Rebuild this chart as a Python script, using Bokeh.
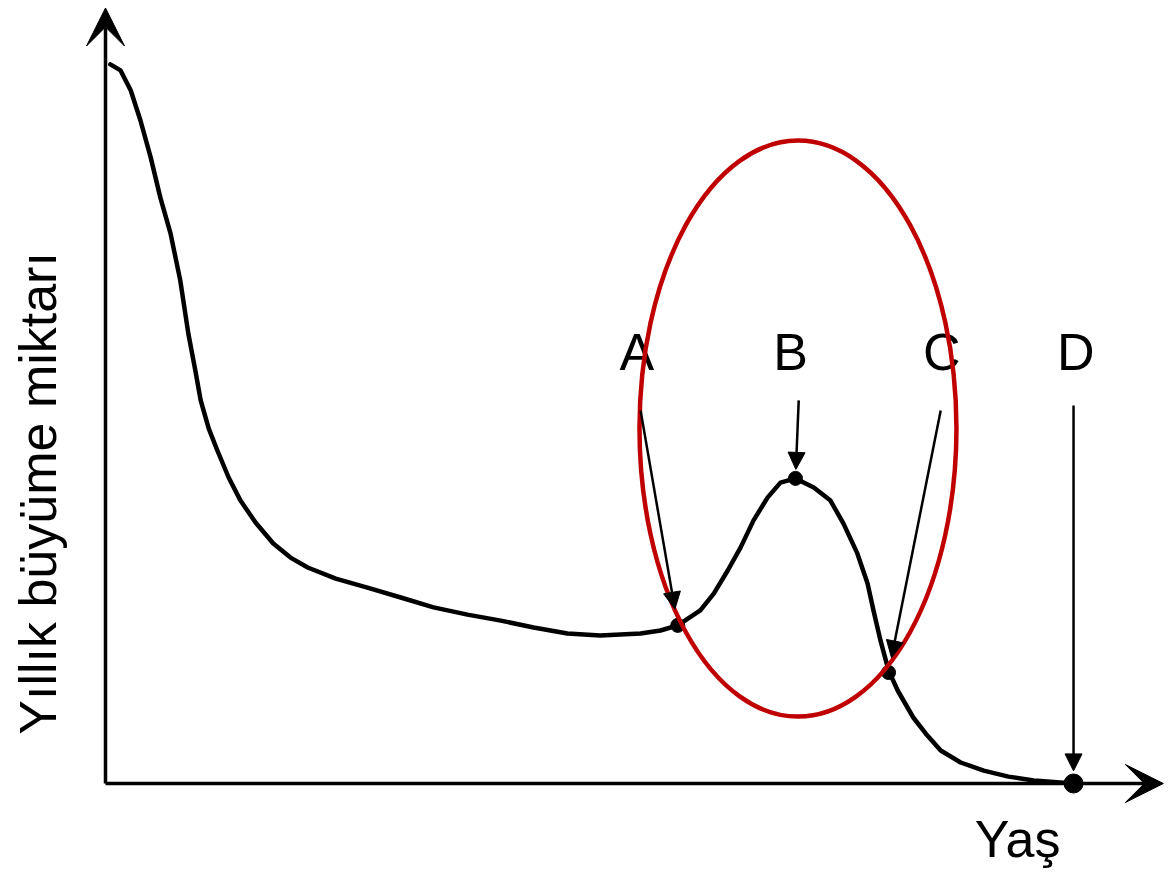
import math
from bokeh.plotting import figure
from bokeh.models import Range1d, Arrow, VeeHead, NormalHead
from bokeh.embed import file_html
from bokeh.resources import INLINE
from bokeh.core.properties import value

# ---------------- data ----------------
ages = [0.09, 0.28, 0.47, 0.65, 0.84, 1.02, 1.21, 1.39, 1.54, 1.67, 1.77,
        1.92, 2.08, 2.29, 2.51, 2.79, 3.12, 3.44, 3.76, 4.28, 4.87,
        5.49, 6.10, 6.73, 7.35, 7.96, 8.59, 9.20, 9.95, 10.32, 10.64,
        11.06, 11.31, 11.57, 11.81, 12.05, 12.31, 12.55, 12.83, 13.17,
        13.48, 13.72, 13.98, 14.17, 14.28, 14.41, 14.56, 14.73, 15.02,
        15.25, 15.53, 15.90, 16.33, 16.79, 17.26, 18.00]
growth = [23.97, 23.77, 23.10, 22.10, 20.87, 19.53, 18.33, 16.77, 15.00, 13.77, 12.77,
          11.83, 11.10, 10.20, 9.43, 8.70, 8.00, 7.53, 7.20, 6.83, 6.53,
          6.20, 5.87, 5.63, 5.43, 5.20, 5.00, 4.93, 5.00, 5.10, 5.27,
          5.77, 6.33, 7.10, 7.87, 8.77, 9.53, 10.03, 10.17, 9.87,
          9.43, 8.67, 7.67, 6.67, 5.77, 4.77, 3.77, 3.10, 2.20,
          1.67, 1.10, 0.70, 0.43, 0.23, 0.10, 0.00]

point_labels = ["A", "B", "C", "D"]
point_ages = [10.64, 12.83, 14.56, 18.00]
point_growth = [5.27, 10.17, 3.70, 0.00]

x_label = "Yaş"
y_label = "Yıllık büyüme miktarı"

# ---------------- layout ----------------
W, H = 1165, 872
PX_PER_X = 53.78           # pixels per year
PX_PER_Y = 30.0            # pixels per growth unit
ORIG_X, ORIG_Y = 105, 783  # origin inside the canvas (pixels from left / top)

x_start = -ORIG_X / PX_PER_X
x_end = (W - ORIG_X) / PX_PER_X
y_end = ORIG_Y / PX_PER_Y
y_start = -(H - ORIG_Y) / PX_PER_Y

p = figure(width=W, height=H, output_backend="svg", toolbar_location=None,
           x_axis_type=None, y_axis_type=None, min_border=0,
           x_range=Range1d(x_start, x_end), y_range=Range1d(y_start, y_end))
p.outline_line_color = None
p.background_fill_color = "white"
p.border_fill_color = "white"
p.grid.visible = False

FONT = value("Liberation Sans")

# axes with arrows
p.add_layout(Arrow(end=VeeHead(size=38, fill_color="black", line_color="black", line_width=1),
                   x_start=0, y_start=0, x_end=0, y_end=25.85,
                   line_width=3.5, line_color="black"))
p.add_layout(Arrow(end=VeeHead(size=38, fill_color="black", line_color="black", line_width=1),
                   x_start=0, y_start=0, x_end=19.67, y_end=0,
                   line_width=3.5, line_color="black"))

# curve
p.line(ages, growth, line_width=4.5, line_color="black", line_join="round", line_cap="round")

# key points
p.scatter(point_ages[:3], point_growth[:3], size=14, marker="circle",
          fill_color="black", line_color="black")
p.scatter(point_ages[3:], point_growth[3:], size=19, marker="circle",
          fill_color="black", line_color="black")

# labels above the key points with pointer arrows
label_dx = [-0.76, -0.09, 0.99, 0.04]     # label offset from point (years)
label_y = 14.37                            # height of the letters
tail_dx = [-0.69, 0.06, 0.97, 0.0]
tail_y = [12.43, 12.77, 12.43, 12.60]
head_gap = [0.55, 0.3, 0.5, 0.42]

p.text(x=[a + d for a, d in zip(point_ages, label_dx)], y=[label_y] * 4, text=point_labels,
       text_font=FONT, text_font_size="52px", text_align="center",
       text_baseline="alphabetic", text_color="black")

for a, g, tdx, ty, gap in zip(point_ages, point_growth, tail_dx, tail_y, head_gap):
    xs, ys = a + tdx, ty
    dx, dy = (a - xs) * PX_PER_X, (g - ys) * PX_PER_Y
    L = math.hypot(dx, dy)
    gap_px = gap * PX_PER_Y
    xe = a - (dx / L) * gap_px / PX_PER_X
    ye = g - (dy / L) * gap_px / PX_PER_Y
    p.add_layout(Arrow(end=NormalHead(size=17, fill_color="black", line_color="black", line_width=1),
                       x_start=xs, y_start=ys, x_end=xe, y_end=ye,
                       line_width=2.5, line_color="black"))

# red ellipse highlighting the puberty growth spurt
p.ellipse(x=[12.876], y=[11.83], width=[5.894], height=[19.2],
          fill_color=None, line_color="#c00000", line_width=4.5)

# axis titles
p.text(x=[16.96], y=[-1.84], text=[x_label], text_font=FONT, text_font_size="52px",
       text_align="center", text_baseline="alphabetic", text_color="black")
p.text(x=[-1.25], y=[9.67], text=[y_label], angle=math.pi / 2, text_font=FONT,
       text_font_size="52px", text_align="center", text_baseline="alphabetic",
       text_color="black")

open("out.html", "w").write(file_html(p, INLINE))
